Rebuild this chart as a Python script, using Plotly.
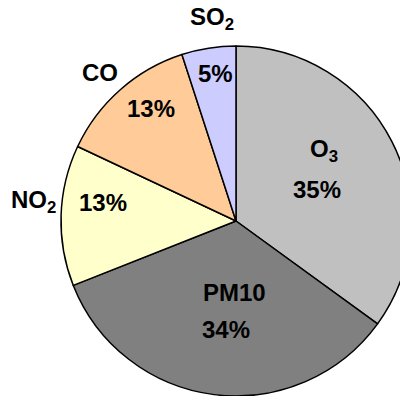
import plotly.graph_objects as go

pollutants = ["O3", "PM10", "NO2", "CO", "SO2"]
name_labels = ["O<sub>3</sub>", "PM10", "NO<sub>2</sub>", "CO", "SO<sub>2</sub>"]
shares = [35, 34, 13, 13, 5]
slice_colors = ["#C0C0C0", "#808080", "#FFFFCC", "#FFCC99", "#CCCCFF"]

# label anchor positions in page pixels (name position, percent position)
name_pos = [(324, 150), (234, 292.5), (33, 201), (100, 72.5), (212, 19)]
pct_pos = [(316.5, 189.5), (225.5, 329), (103, 202), (151, 108), (215.5, 74)]

W, H = 403, 388
ML, MR, MT, MB = 53, 0, 38, 0
BODY = 8  # default page margin around the plot div


def to_paper(px, py):
    x = (px - BODY - ML) / (W - ML - MR)
    y = 1 - (py - BODY - MT) / (H - MT - MB)
    return x, y


font = dict(family="Liberation Sans, Arial, sans-serif", size=24, color="black", weight="bold")

fig = go.Figure()
fig.add_trace(go.Pie(
    labels=pollutants, values=shares, sort=False, direction="clockwise", rotation=0,
    marker=dict(colors=slice_colors, line=dict(color="black", width=1.5)),
    textinfo="none", hoverinfo="label+percent", showlegend=False,
))

annotations = []
for name, share, npos, ppos in zip(name_labels, shares, name_pos, pct_pos):
    for txt, pos in ((name, npos), (f"{share}%", ppos)):
        x, y = to_paper(*pos)
        annotations.append(dict(
            text=txt, x=x, y=y, xref="paper", yref="paper",
            xanchor="center", yanchor="middle", showarrow=False, font=font,
        ))

fig.update_layout(
    width=W, height=H,
    margin=dict(l=ML, r=MR, t=MT, b=MB, pad=0),
    paper_bgcolor="white", plot_bgcolor="white",
    annotations=annotations,
)
fig.write_html("out.html")
